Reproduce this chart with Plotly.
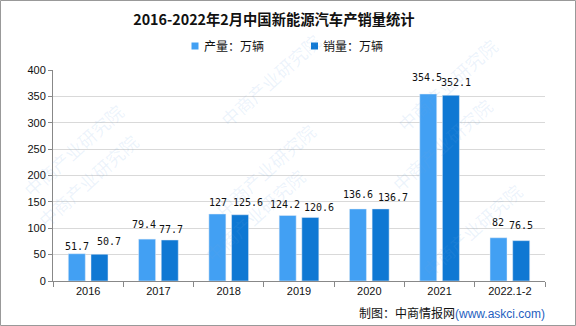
import plotly.graph_objects as go

years = ["2016", "2017", "2018", "2019", "2020", "2021", "2022.1-2"]
production = [51.7, 79.4, 127, 124.2, 136.6, 354.5, 82]
sales = [50.7, 77.7, 125.6, 120.6, 136.7, 352.1, 76.5]
y_ticks = [0, 50, 100, 150, 200, 250, 300, 350, 400]

PROD_COLOR = "#42A0F3"
SALES_COLOR = "#0F78D3"

W, H = 576, 326
L, R, T, B = 53, 31, 70, 45
pw, ph = W - L - R, H - T - B


def px_x(px):
    return (px - L) / pw


def px_y(py):
    return (T + ph - py) / ph


# value-label nudges (pixels): horizontal shift from bar centre, lift above bar top
BAR_HALF_SPACING = 11.3
prod_label_dx = [0, -3, 1, -3, 0, -1, -1]
prod_label_lift = [0, 7, 4, 3, 7, 9, 8]
sales_label_dx = [10, 1, 8, 9, 12, 5, 0]
sales_label_lift = [5, 3, 5, 2, 4, 5, 8]

label_font = dict(family="DejaVu Sans Mono, Liberation Mono", size=10, color="#111")

fig = go.Figure()
fig.add_trace(go.Bar(x=years, y=production, name="产量：万辆", marker_color=PROD_COLOR,
                     showlegend=False))
fig.add_trace(go.Bar(x=years, y=sales, name="销量：万辆", marker_color=SALES_COLOR,
                     showlegend=False))

annotations = []
# category axes take numeric indices for annotation positions
for i in range(len(years)):
    annotations.append(dict(x=i, y=production[i], xref="x", yref="y", text=f"{production[i]:g}",
                            showarrow=False, yanchor="bottom",
                            xshift=-BAR_HALF_SPACING + prod_label_dx[i],
                            yshift=prod_label_lift[i], font=label_font))
    annotations.append(dict(x=i, y=sales[i], xref="x", yref="y", text=f"{sales[i]:g}",
                            showarrow=False, yanchor="bottom",
                            xshift=BAR_HALF_SPACING + sales_label_dx[i],
                            yshift=sales_label_lift[i], font=label_font))

# faint watermark
for (wx, wy) in [(15, 95), (270, 25), (265, 115), (255, 270), (505, 30), (500, 145), (530, 285), (30, 235)]:
    annotations.append(dict(text="中商产业研究院", x=px_x(wx), y=px_y(wy), xref="paper", yref="paper",
                            showarrow=False, textangle=-42,
                            font=dict(family="Noto Sans CJK SC", size=18,
                                      color="rgba(110,165,225,0.13)")))

# legend drawn as swatches + labels
legend_items = [("产量：万辆", PROD_COLOR, 191.5), ("销量：万辆", SALES_COLOR, 311)]
shapes = []
for name, color, sx in legend_items:
    shapes.append(dict(type="rect", xref="paper", yref="paper",
                       x0=px_x(sx), x1=px_x(sx + 7), y0=px_y(49.5), y1=px_y(42.5),
                       fillcolor=color, line=dict(width=0)))
    annotations.append(dict(text=name, x=px_x(sx + 10), y=px_y(46), xref="paper", yref="paper",
                            xanchor="left", yanchor="middle", showarrow=False,
                            font=dict(family="Noto Sans CJK SC", size=12, color="#111")))

# source note
annotations.append(dict(
    text="制图：中商情报网<span style='color:#1F5FBF;font-family:Liberation Sans, Arial'>(www.askci.com)</span>",
    x=px_x(547), xanchor="right", y=px_y(312), yanchor="middle",
    xref="paper", yref="paper", showarrow=False,
    font=dict(family="Noto Sans CJK SC", size=12, color="#111")))

# outer frame
shapes.append(dict(type="rect", xref="paper", yref="paper",
                   x0=px_x(0.5), x1=px_x(W - 0.5), y0=px_y(H - 0.5), y1=px_y(0.5),
                   line=dict(color="#999", width=1), layer="below"))

fig.update_layout(
    width=W, height=H,
    margin=dict(l=L, r=R, t=T, b=B),
    paper_bgcolor="white", plot_bgcolor="white",
    barmode="group", bargap=0.355, bargroupgap=0.25,
    showlegend=False,
    title=dict(text="<b>2016-2022年2月中国新能源汽车产销量统计</b>",
               x=px_x(287), xanchor="center", y=1 - 19.5 / H, yanchor="middle",
               font=dict(family="Noto Sans CJK SC", size=14.3, color="#111")),
    font=dict(family="Liberation Sans, Arial", size=11, color="#111"),
    xaxis=dict(type="category", range=[-0.5, len(years) - 0.5], showline=True,
               linecolor="#888", linewidth=1,
               ticks="outside", tickson="boundaries", ticklen=5, tickcolor="#888",
               tickfont=dict(family="Liberation Sans, Arial", size=11, color="#111"),
               showgrid=False),
    yaxis=dict(range=[0, 400], tickvals=y_ticks, showline=True, linecolor="#888",
               linewidth=1, ticks="outside", ticklen=4, tickcolor="#888",
               gridcolor="#D9D9D9", gridwidth=1, zeroline=False,
               tickfont=dict(family="Liberation Sans, Arial", size=11, color="#111")),
    annotations=annotations,
    shapes=shapes,
)

fig.write_html("out.html")
